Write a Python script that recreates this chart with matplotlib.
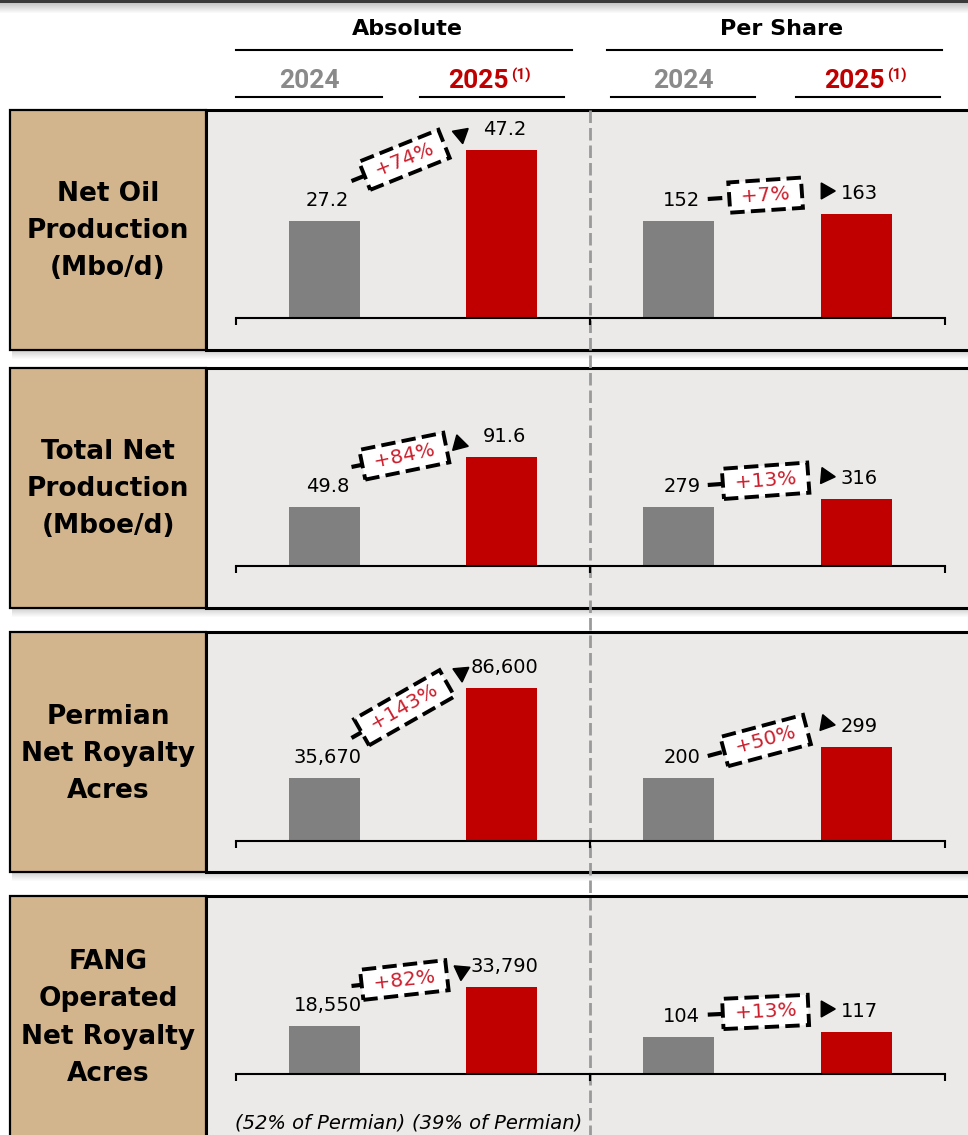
import numpy as np
import matplotlib.pyplot as plt
from matplotlib.patches import Rectangle, Polygon

# Output size in pixels (saved at dpi 100)
W, H = 968, 1135

# Chart data
ROW_LABELS = ["Net Oil\nProduction\n(Mbo/d)",
              "Total Net\nProduction\n(Mboe/d)",
              "Permian\nNet Royalty\nAcres",
              "FANG\nOperated\nNet Royalty\nAcres"]
GROUPS = ["Absolute", "Per Share"]
YEARS = ["2024", "2025"]
ABS_2024 = [27.2, 49.8, 35670, 18550]
ABS_2025 = [47.2, 91.6, 86600, 33790]
PS_2024 = [152, 279, 200, 104]
PS_2025 = [163, 316, 299, 117]
ABS_CHANGE = ["+74%", "+84%", "+143%", "+82%"]
PS_CHANGE = ["+7%", "+13%", "+50%", "+13%"]
FOOTNOTES = ["(52% of Permian)", "(39% of Permian)"]

# Row layout in image pixels (y counted from the top)
PANEL_TOP = [110, 368, 632, 896]
PANEL_BOTTOM = [350, 608, 872, 1150]
LABEL_Y = [231, 489, 754, 1018]
BASELINE = [318, 566, 841, 1074]
YMAX_ABS = [57.8, 165.4, 117200, 68000]
YMAX_PS = [322.8, 926.8, 657, 490]
ABS_HEAD_DIR = [-80, -15, -85, -95]
PS_HEAD_DIR = [0, -5, -10, 0]

GRAY = '#808080'
RED = '#C00000'
PCT_RED = '#CC1F2D'
PANEL = '#EBEAE8'
TAN = '#D3B58D'

plt.rcParams['font.family'] = ['DejaVu Sans']


def fmt(v):
    return f"{v:,.1f}" if isinstance(v, float) else f"{v:,}"


def to_img(ax, x, v):
    """data point -> image pixel coords (y down)"""
    dx, dy = ax.transData.transform((x, v))
    return dx, H - dy


def draw_change(fg, start, head, text, head_dir):
    """dashed line + dashed box with the change + arrow head"""
    sx, sy = start
    hx, hy = head
    ang = np.degrees(np.arctan2(-(hy - sy), hx - sx))
    cx = sx + 0.48 * (hx - sx)
    cy = sy + 0.48 * (hy - sy)
    fg.plot([sx, cx], [sy, cy], color='black', lw=3, ls=(0, (3.5, 1.8)),
            dash_capstyle='butt', zorder=3)
    fg.text(cx, cy, " " + text + " ", rotation=ang, rotation_mode='anchor',
            ha='center', va='center', fontsize=14.5, color=PCT_RED, zorder=4,
            bbox=dict(boxstyle='square,pad=0.28', fc='white', ec='black',
                      lw=2.8, ls='--'))
    a = np.radians(head_dir)
    d = np.array([np.cos(a), -np.sin(a)])
    n = np.array([-d[1], d[0]])
    p = np.array([hx, hy])
    tri = [p + d * 7, p - d * 7 + n * 8, p - d * 7 - n * 8]
    fg.add_patch(Polygon(tri, closed=True, color='black', zorder=4))


fig = plt.figure(figsize=(W / 100, H / 100), dpi=100)
fig.patch.set_facecolor('white')

# background layer in pixel coords
bg = fig.add_axes([0, 0, 1, 1], zorder=0)
bg.set_xlim(0, W)
bg.set_ylim(H, 0)
bg.axis('off')

# top edge shadow
bg.add_patch(Rectangle((0, 0), W, 2.5, color='#3a3a3a', lw=0))
for k in range(10):
    bg.add_patch(Rectangle((0, 2.5 + k), W, 1, color='black', lw=0,
                           alpha=0.22 * (1 - k / 10)))

# column headers
bg.text(407, 29, GROUPS[0], ha='center', va='center', fontsize=16, weight='bold')
bg.text(782, 29, GROUPS[1], ha='center', va='center', fontsize=16, weight='bold')
bg.plot([236, 572], [50, 50], color='black', lw=1.5)
bg.plot([607, 942], [50, 50], color='black', lw=1.5)
for (x0, x1) in [(236, 382), (611, 755)]:
    bg.plot([x0, x1], [97, 97], color='black', lw=1.5)
    bg.text((x0 + x1) / 2, 88, YEARS[0], ha='center', va='baseline',
            fontsize=19, weight='bold', color='#8A8A8A', family='Roboto')
for (x0, x1) in [(420, 564), (796, 940)]:
    bg.plot([x0, x1], [97, 97], color='black', lw=1.5)
    xc = (x0 + x1) / 2
    bg.text(xc + 17, 88, YEARS[1], ha='right', va='baseline',
            fontsize=19, weight='bold', color=RED, family='Roboto')
    bg.text(xc + 19, 80, "(1)", ha='left', va='baseline',
            fontsize=11, weight='bold', color=RED, family='Roboto')

# row panels
for i in range(4):
    top, bot = PANEL_TOP[i], PANEL_BOTTOM[i]
    for k in range(8):
        bg.add_patch(Rectangle((12, bot + 1 + k), W, 1, color='black', lw=0,
                               alpha=0.16 * (1 - k / 8)))
    bg.add_patch(Rectangle((206, top), W, bot - top, fc=PANEL, ec='black', lw=2.2))
    bg.add_patch(Rectangle((10, top), 196, bot - top, fc=TAN, ec='black', lw=1.6))
    bg.text(108, LABEL_Y[i], ROW_LABELS[i], ha='center', va='center',
            fontsize=19, weight='bold', linespacing=1.57)

# dashed divider between the two groups
bg.plot([590, 590], [110, H], color='#9A9A9A', lw=2, ls=(0, (4.5, 1.8)))

# foreground layer for the change arrows
fg = fig.add_axes([0, 0, 1, 1], zorder=5)
fg.set_xlim(0, W)
fg.set_ylim(H, 0)
fg.axis('off')
fg.patch.set_alpha(0)

xpos = [0.5, 1.5]
for i in range(4):
    top, base = PANEL_TOP[i] + 2, BASELINE[i]
    for g, (x0, x1) in enumerate([(236, 590), (590, 945)]):
        ax = fig.add_axes([x0 / W, (H - base) / H, (x1 - x0) / W, (base - top) / H],
                          zorder=2)
        ax.patch.set_alpha(0)
        vals = [ABS_2024[i], ABS_2025[i]] if g == 0 else [PS_2024[i], PS_2025[i]]
        ax.bar(xpos, vals, width=0.4, color=[GRAY, RED])
        ax.set_xlim(0, 2)
        ax.set_ylim(0, YMAX_ABS[i] if g == 0 else YMAX_PS[i])
        for s in ['top', 'left', 'right']:
            ax.spines[s].set_visible(False)
        ax.spines['bottom'].set_linewidth(1.5)
        ax.set_yticks([])
        ax.set_xticks([0, 2])
        ax.set_xticklabels([])
        ax.tick_params(axis='x', direction='out', length=5, width=1.5)

        for x, v in zip(xpos, vals):
            ax.annotate(fmt(v), xy=(x, v), xytext=(3, 15), textcoords='offset pixels',
                        ha='center', va='baseline', fontsize=14)

        # label centres in image coords
        b1 = to_img(ax, xpos[0], vals[0])
        b2 = to_img(ax, xpos[1], vals[1])
        l1 = (b1[0] + 3, b1[1] - 22)
        l2 = (b2[0] + 3, b2[1] - 22)
        if g == 0:
            draw_change(fg, (l1[0] + 24, l1[1] - 18), (l2[0] - 43, l2[1] + 9),
                        ABS_CHANGE[i], ABS_HEAD_DIR[i])
        else:
            draw_change(fg, (l1[0] + 26, l1[1]), (l2[0] - 31, l2[1] - 1),
                        PS_CHANGE[i], PS_HEAD_DIR[i])

        if i == 3 and g == 0:
            for x, note in zip(xpos, FOOTNOTES):
                ax.annotate(note, xy=(x, 0), xytext=(-4, -49), textcoords='offset pixels',
                            ha='center', va='center', fontsize=14, style='italic')

fig.savefig('out.png', dpi=100)
